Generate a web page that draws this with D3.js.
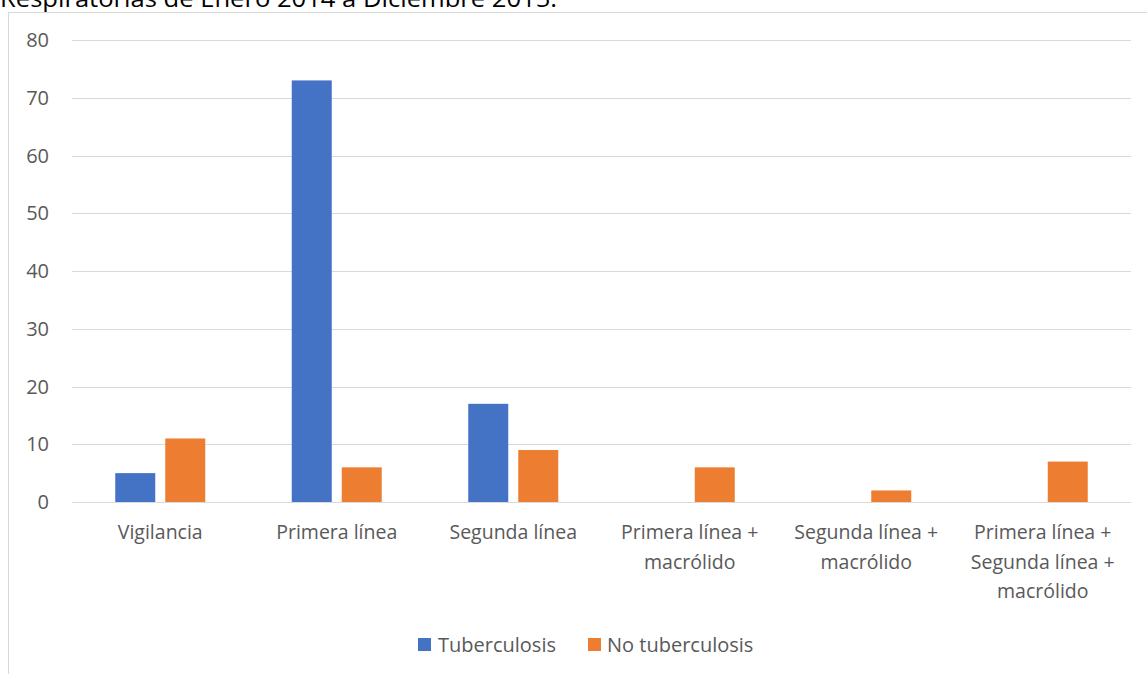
<!DOCTYPE html>
<html>
<head>
<meta charset="utf-8">
<script src="https://cdn.jsdelivr.net/npm/d3@7.9.0/dist/d3.min.js"></script>
<style>
  body { margin: 0; background: #fff; overflow: hidden; }
  svg { display: block; font-family: "Open Sans", "Noto Sans", sans-serif; }
</style>
</head>
<body>
<svg id="chart" width="1147" height="674"></svg>
<script>
const categories = [
  ['Vigilancia'],
  ['Primera línea'],
  ['Segunda línea'],
  ['Primera línea +', 'macrólido'],
  ['Segunda línea +', 'macrólido'],
  ['Primera línea +', 'Segunda línea +', 'macrólido']
];
const seriesNames = ['Tuberculosis', 'No tuberculosis'];
const tuberculosis = [5, 73, 17, 0, 0, 0];
const noTuberculosis = [11, 6, 9, 6, 2, 7];
const yTicks = [0, 10, 20, 30, 40, 50, 60, 70, 80];
const colors = ['#4472c4', '#ed7d31'];

const svg = d3.select('#chart');
const plotLeft = 72, plotRight = 1131, plotTop = 40, plotBottom = 502;

// title, mostly cut off at the top like the source
svg.append('text')
  .attr('x', 0).attr('y', 7)
  .attr('font-size', 23).attr('fill', '#000')
  .attr('textLength', 557).attr('lengthAdjust', 'spacingAndGlyphs')
  .text('Respiratorias de Enero 2014 a Diciembre 2015.');

// chart frame
svg.append('rect')
  .attr('x', 8.5).attr('y', 12.5)
  .attr('width', 1160).attr('height', 700)
  .attr('fill', 'none').attr('stroke', '#d9d9d9');

const x = d3.scaleBand().domain(d3.range(categories.length)).range([plotLeft, plotRight]);
const y = d3.scaleLinear().domain([0, 80]).range([plotBottom, plotTop]);

const grid = svg.append('g');
yTicks.forEach(t => {
  grid.append('line')
    .attr('x1', plotLeft).attr('x2', plotRight)
    .attr('y1', Math.round(y(t)) + 0.5).attr('y2', Math.round(y(t)) + 0.5)
    .attr('stroke', '#d9d9d9').attr('stroke-width', 1);
  grid.append('text')
    .attr('x', 49).attr('y', y(t))
    .attr('dy', '0.35em')
    .attr('text-anchor', 'end')
    .attr('font-size', 20).attr('fill', '#595959')
    .text(t);
});

const barW = 40, gap = 10;
const series = [tuberculosis, noTuberculosis];
series.forEach((vals, s) => {
  svg.append('g').selectAll('rect')
    .data(vals)
    .join('rect')
    .attr('x', (d, i) => x(i) + x.bandwidth() / 2 - barW - gap / 2 + s * (barW + gap))
    .attr('y', d => y(d))
    .attr('width', barW)
    .attr('height', d => y(0) - y(d))
    .attr('fill', colors[s]);
});

// category labels
categories.forEach((lines, i) => {
  const t = svg.append('text')
    .attr('text-anchor', 'middle')
    .attr('font-size', 19.5).attr('fill', '#595959');
  lines.forEach((ln, k) => {
    t.append('tspan')
      .attr('x', x(i) + x.bandwidth() / 2)
      .attr('y', 539 + k * 29.5)
      .text(ln);
  });
});

// legend
const legendItems = [{ x: 418, tx: 438 }, { x: 588, tx: 607 }];
seriesNames.forEach((name, s) => {
  svg.append('rect')
    .attr('x', legendItems[s].x).attr('y', 638)
    .attr('width', 13).attr('height', 13)
    .attr('fill', colors[s]);
  svg.append('text')
    .attr('x', legendItems[s].tx).attr('y', 652)
    .attr('font-size', 20).attr('fill', '#595959')
    .text(name);
});
</script>
</body>
</html>
